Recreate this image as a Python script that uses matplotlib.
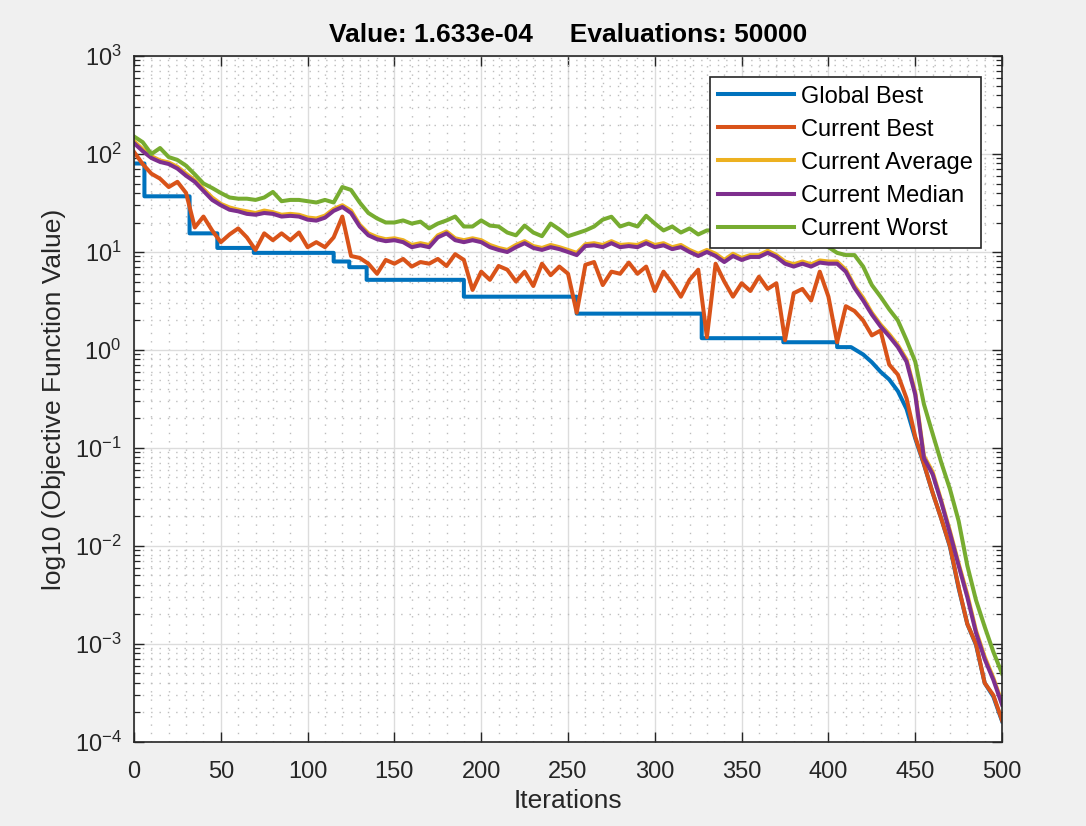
import numpy as np
import matplotlib
matplotlib.use("Agg")
import matplotlib.pyplot as plt
from matplotlib.ticker import MultipleLocator, LogLocator, NullFormatter

iters = np.arange(0, 501, 5)

current_worst = [
    151, 132, 100, 115, 93, 87, 76, 62, 50, 45,
    40, 36, 35, 35, 34, 36, 41, 33, 34, 34,
    33, 32, 34, 32, 46, 43, 32, 25, 22, 20,
    20, 21, 19.5, 20.4, 17.4, 19.5, 21, 23, 18.2, 18.2,
    21, 18.6, 18.2, 15.8, 14.8, 18.6, 15.8, 14.5, 19.5, 17,
    14.5, 15.5, 16.6, 18.2, 21.4, 22.9, 18.2, 19.5, 18.2, 23.4,
    19.5, 16.6, 18.2, 15.8, 17.4, 15.1, 16.6, 16.6, 15.1, 17.8,
    15.8, 14.8, 16.6, 14.1, 15.5, 17.4, 14.5, 13.2, 15.1, 12.3,
    11.2, 9.8, 9.3, 9.3, 7.1, 4.6, 3.5, 2.6, 2.0, 1.26,
    0.76, 0.28, 0.14, 0.071, 0.038, 0.018, 0.0063, 0.0028, 0.0015, 0.00083, 0.0005,
]

current_median = [
    129, 107, 91, 83, 79, 71, 60, 52, 42, 34,
    30, 27, 26, 24.5, 24, 25, 24.5, 23, 23.4, 23,
    21.4, 20.9, 22.4, 26.3, 28.8, 25, 18.2, 14.8, 13.5, 12.9,
    13.2, 12.6, 11.2, 11.7, 11.2, 14.1, 15.5, 13.2, 12.6, 13.2,
    12.6, 11.2, 10.5, 10, 11.2, 12.3, 11, 10.5, 11.2, 10.7,
    10, 9.3, 11.5, 11.7, 11.2, 12.3, 11.2, 11.5, 11.2, 12.3,
    11.2, 11.7, 10.7, 11.2, 10, 9.1, 10, 9.1, 7.9, 9.1,
    8.3, 8.9, 8.9, 9.8, 8.9, 7.6, 7.1, 7.6, 7.1, 7.8,
    7.6, 7.6, 6.3, 4.3, 3.2, 2.3, 1.74, 1.38, 1.07, 0.76,
    0.35, 0.079, 0.054, 0.028, 0.0135, 0.0063, 0.003, 0.0013, 0.0007, 0.00043, 0.00024,
]

current_average = [
    135, 112, 95, 86, 82, 74, 63, 54, 44, 36,
    31, 28.5, 27, 26, 25, 26.5, 25.5, 24, 24.5, 24,
    22.5, 22, 23.5, 27.5, 30, 26.5, 19, 15.5, 14.2, 13.5,
    13.8, 13.2, 11.8, 12.3, 11.8, 14.8, 16.2, 13.8, 13.2, 13.8,
    13.2, 11.8, 11, 10.5, 11.8, 12.9, 11.5, 11, 11.8, 11.2,
    10.5, 9.8, 12, 12.3, 11.8, 12.9, 11.8, 12, 11.8, 12.9,
    11.8, 12.3, 11.2, 11.8, 10.5, 9.6, 10.5, 9.6, 8.3, 9.6,
    8.7, 9.3, 9.3, 10.3, 9.3, 8, 7.5, 8, 7.5, 8.2,
    8, 8, 6.6, 4.5, 3.4, 2.4, 1.82, 1.45, 1.12, 0.8,
    0.37, 0.083, 0.057, 0.029, 0.0142, 0.0066, 0.0032, 0.00137, 0.00074, 0.00045, 0.00025,
]

current_best = [
    105, 79, 63, 56, 46, 52, 40, 17.8, 23, 16.6,
    12.6, 15.1, 17.4, 14.1, 10.5, 15.5, 13.2, 15.5, 13.2, 15.8,
    11.2, 12.6, 11.2, 14.1, 23, 9.1, 8.7, 7.6, 6.0, 8.3,
    7.6, 8.5, 7.1, 7.9, 7.6, 8.5, 7.2, 9.5, 8.3, 4.1,
    6.3, 5.2, 7.2, 6.6, 5.0, 6.3, 4.5, 7.6, 5.8, 7.1,
    6.0, 2.4, 7.4, 7.9, 4.6, 6.3, 6.0, 7.8, 6.0, 7.1,
    4.0, 6.3, 4.8, 3.5, 5.2, 6.6, 1.35, 7.6, 5.0, 3.5,
    4.8, 4.0, 5.6, 4.2, 4.8, 1.26, 3.8, 4.2, 3.2, 6.3,
    3.5, 1.2, 2.8, 2.5, 2.0, 1.41, 1.58, 0.71, 0.56, 0.32,
    0.13, 0.069, 0.035, 0.019, 0.01, 0.0038, 0.0016, 0.001, 0.0004, 0.0003, 0.000166,
]

# global best: plateaus with the corner points of each drop, then the final descent
gbest_iters = [0, 6, 6, 32, 32, 48, 48, 69, 69, 115,
               115, 124, 124, 134, 134, 190, 190, 255, 255, 327,
               327, 374, 374, 405, 405, 413, 420, 425, 430, 435,
               440, 445, 450, 455, 460, 465, 470, 475, 480, 485,
               490, 495, 500]
gbest_values = [80, 80, 37, 37, 15.5, 15.5, 11, 11, 9.8, 9.8,
                8.0, 8.0, 7.0, 7.0, 5.2, 5.2, 3.5, 3.5, 2.35, 2.35,
                1.32, 1.32, 1.2, 1.2, 1.07, 1.07, 0.9, 0.75, 0.6, 0.5,
                0.38, 0.25, 0.125, 0.068, 0.035, 0.019, 0.0098, 0.0037, 0.0016, 0.00098,
                0.0004, 0.00029, 0.000163]

colors = ["#0072BD", "#D95319", "#EDB120", "#7E2F8E", "#77AC30"]

plt.rcParams["font.family"] = ["Liberation Sans", "DejaVu Sans"]

fig = plt.figure(figsize=(10.86, 8.26), dpi=100, facecolor="#f0f0f0")
ax = fig.add_axes([0.1234, 0.1017, 0.7993, 0.8305])
ax.set_facecolor("white")

lw = 2.9
ax.plot(gbest_iters, gbest_values, color=colors[0], lw=lw, label="Global Best")
ax.plot(iters, current_best, color=colors[1], lw=lw, label="Current Best")
ax.plot(iters, current_average, color=colors[2], lw=lw, label="Current Average")
ax.plot(iters, current_median, color=colors[3], lw=lw, label="Current Median")
ax.plot(iters, current_worst, color=colors[4], lw=lw, label="Current Worst")

ax.set_yscale("log")
ax.set_xlim(0, 500)
ax.set_ylim(1e-4, 1e3)
ax.set_xticks(np.arange(0, 501, 50))
ax.xaxis.set_minor_locator(MultipleLocator(10))
ax.yaxis.set_major_locator(LogLocator(base=10, numticks=20))
ax.yaxis.set_minor_locator(LogLocator(base=10, subs=np.arange(2, 10), numticks=20))
ax.yaxis.set_minor_formatter(NullFormatter())

ax.grid(True, which="major", color="#dcdcdc", lw=1.0, ls="-")
ax.grid(True, which="minor", color="#bdbdbd", lw=1.0, ls=(0, (1, 5)))
ax.set_axisbelow(True)

for s in ax.spines.values():
    s.set_color("#262626")
    s.set_linewidth(1.2)
ax.tick_params(which="both", direction="in", top=True, right=True, colors="#262626",
               labelsize=17, labelcolor="#262626")
ax.tick_params(which="major", length=7, width=1.0)
ax.tick_params(axis="x", which="major", pad=14)
ax.tick_params(axis="y", which="major", pad=9)
ax.tick_params(axis="x", which="minor", length=0)
ax.tick_params(axis="y", which="minor", length=4, width=0.9)

ax.set_xlabel("Iterations", fontsize=19, color="#262626", labelpad=4)
ax.set_ylabel("log10 (Objective Function Value)", fontsize=19, color="#262626", labelpad=6)
ax.set_title("Value: 1.633e-04     Evaluations: 50000", fontsize=19, fontweight="bold",
             color="black", pad=10)

leg = ax.legend(loc="upper right", fontsize=17, frameon=True, fancybox=False,
                edgecolor="#262626", framealpha=1, handlelength=3.2, handletextpad=0.3,
                labelspacing=0.47, borderpad=0.35, borderaxespad=0.9)
leg.get_frame().set_linewidth(1.2)

fig.savefig("out.png", dpi=100, facecolor=fig.get_facecolor())
